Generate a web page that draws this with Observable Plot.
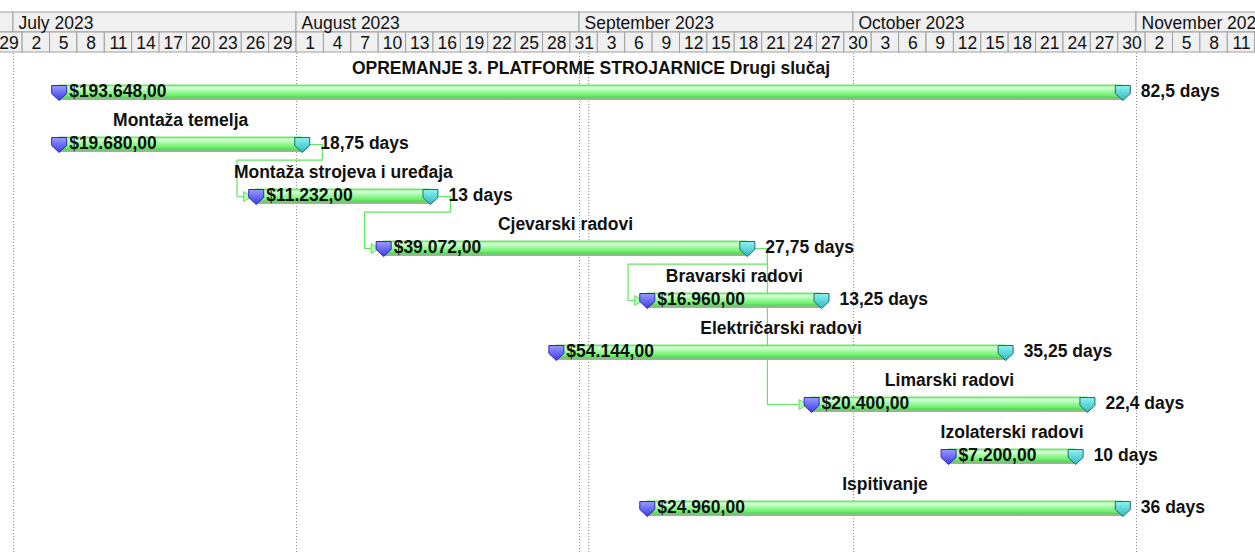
<!DOCTYPE html>
<html><head><meta charset="utf-8">
<script src="https://cdn.jsdelivr.net/npm/d3@7"></script>
<script src="https://cdn.jsdelivr.net/npm/@observablehq/plot@0.6"></script>
<style>
html,body{margin:0;padding:0;background:#fff;}
body{width:1255px;height:552px;overflow:hidden;font-family:Arial,"Liberation Sans",sans-serif;}
svg{display:block;}
</style></head><body><div id="chart"></div>
<script>
// ---- data ----
const taskNames = ["OPREMANJE 3. PLATFORME STROJARNICE Drugi slučaj","Montaža temelja","Montaža strojeva i uređaja","Cjevarski radovi","Bravarski radovi","Električarski radovi","Limarski radovi","Izolaterski radovi","Ispitivanje"];
const taskStarts = ["2023-07-06T00:00","2023-07-06T00:00","2023-07-27T14:00","2023-08-10T13:00","2023-09-08T10:00","2023-08-29T11:00","2023-09-26T10:00","2023-10-11T10:00","2023-09-08T10:00"];
const taskEnds   = ["2023-10-30T12:00","2023-08-01T15:00","2023-08-15T16:00","2023-09-19T09:00","2023-09-27T12:00","2023-10-17T16:00","2023-10-26T15:00","2023-10-25T08:00","2023-10-30T12:00"];
const taskCosts  = ["$193.648,00","$19.680,00","$11.232,00","$39.072,00","$16.960,00","$54.144,00","$20.400,00","$7.200,00","$24.960,00"];
const taskDurations = ["82,5 days","18,75 days","13 days","27,75 days","13,25 days","35,25 days","22,4 days","10 days","36 days"];
const linkFrom = [1,2,3,3];
const linkTo   = [2,3,4,6];
const monthStarts = ["2023-06-01","2023-07-01","2023-08-01","2023-09-01","2023-10-01","2023-11-01"];
const monthEnds   = ["2023-07-01","2023-08-01","2023-09-01","2023-10-01","2023-11-01","2023-12-01"];
const monthLabels = ["","July 2023","August 2023","September 2023","October 2023","November 2023"];
const dayTicks = ["2023-06-29","2023-07-02","2023-07-05","2023-07-08","2023-07-11","2023-07-14","2023-07-17","2023-07-20","2023-07-23","2023-07-26","2023-07-29","2023-08-01","2023-08-04","2023-08-07","2023-08-10","2023-08-13","2023-08-16","2023-08-19","2023-08-22","2023-08-25","2023-08-28","2023-08-31","2023-09-03","2023-09-06","2023-09-09","2023-09-12","2023-09-15","2023-09-18","2023-09-21","2023-09-24","2023-09-27","2023-09-30","2023-10-03","2023-10-06","2023-10-09","2023-10-12","2023-10-15","2023-10-18","2023-10-21","2023-10-24","2023-10-27","2023-10-30","2023-11-02","2023-11-05","2023-11-08","2023-11-11","2023-11-14"];
const gridDates = ["2023-07-01","2023-08-01","2023-09-01","2023-10-01","2023-11-01","2023-09-02"];

// ---- helpers ----
const D = s => new Date(s + (s.length > 10 ? ":00Z" : "T00:00:00Z"));
const DAY = 864e5;
const addDays = (d, n) => new Date(+d + n * DAY);
const xScale = {type: "utc", domain: [D("2023-07-01"), D("2023-11-01")], range: [13, 1136], axis: null};
const FONT = "Arial, 'Liberation Sans', sans-serif";
const FS = 17.5;

const tasks = taskNames.map((name, i) => ({
  name, row: i, start: D(taskStarts[i]), end: D(taskEnds[i]),
  cost: taskCosts[i], dur: taskDurations[i]
}));
tasks.forEach(t => t.mid = new Date((+t.start + +t.end) / 2));

// ---- header ----
const months = monthStarts.map((s, i) => ({x1: D(s), x2: D(monthEnds[i]), label: monthLabels[i], tier: "m"}));
const days = dayTicks.map((s, i) => ({x1: D(s), x2: addDays(D(s), 3), label: String(D(s).getUTCDate()), tier: "d"}));
const cells = months.concat(days);

const header = Plot.plot({
  width: 1255, height: 53, margin: 0,
  style: {fontFamily: FONT, fontSize: FS + "px", background: "#fff"},
  x: xScale,
  y: {type: "band", domain: ["m", "d"], range: [11, 52], padding: 0, axis: null},
  marks: [
    Plot.barX(cells, {x1: "x1", x2: "x2", y: "tier", fill: "#f0f0f0", stroke: "#a0a0a0", strokeWidth: 1, inset: 0}),
    Plot.text(months, {x: "x1", y: "tier", text: "label", textAnchor: "start", dx: 5, dy: 1, fill: "#111", fontSize: FS}),
    Plot.text(days, {x: d => new Date((+d.x1 + +d.x2) / 2), y: "tier", text: "label", dy: 1, fill: "#111", fontSize: FS})
  ]
});

// ---- links ----
const GAP_R = 2.2, GAP_L = 2.1, DROP = 0.3, ARR = 0.85;
const linkPts = [];
const arrows = [];
linkFrom.forEach((a, k) => {
  const p = tasks[a], s = tasks[linkTo[k]];
  const ex = addDays(p.end, GAP_R);
  const tip = addDays(s.start, -ARR);
  const pts = [[p.end, p.row], [ex, p.row]];
  if (+addDays(s.start, -GAP_L) >= +ex) {
    pts.push([ex, s.row], [tip, s.row]);
  } else {
    const lx = addDays(s.start, -GAP_L);
    pts.push([ex, p.row + DROP], [lx, p.row + DROP], [lx, s.row], [tip, s.row]);
  }
  pts.forEach(([x, y]) => linkPts.push({x, y, k}));
  arrows.push({x: tip, y: s.row});
});

// custom shield-shaped milestone symbol
const shield = {
  draw(ctx, size) {
    const r = Math.sqrt(size / Math.PI);
    ctx.moveTo(-r, -0.93 * r);
    ctx.lineTo(r, -0.93 * r);
    ctx.lineTo(r, 0.13 * r);
    ctx.lineTo(0, 1.07 * r);
    ctx.lineTo(-r, 0.13 * r);
    ctx.closePath();
  }
};

const BT = 7 / 52, BB = 6 / 52;
const main = Plot.plot({
  width: 1255, height: 499, margin: 0,
  style: {fontFamily: FONT, fontSize: FS + "px", background: "#fff", overflow: "visible"},
  x: xScale,
  y: {type: "linear", domain: [0, 8], range: [39, 455], axis: null},
  marks: [
    Plot.ruleX(gridDates.map(D), {stroke: "#8a8a8a", strokeWidth: 1, strokeDasharray: "1,2", y1: -0.75, y2: 8.85}),
    Plot.line(linkPts, {x: "x", y: "y", z: "k", stroke: "#62e862", strokeWidth: 1.2, curve: "linear"}),
    Plot.dot(arrows, {x: "x", y: "y", symbol: "triangle", rotate: 90, r: 3.6, fill: "#b6ffb6", stroke: "#5fe05f", strokeWidth: 1, dx: -2}),
    Plot.rect(tasks, {x1: "start", x2: "end", y1: d => d.row - BT, y2: d => d.row + BB, fill: "#a9a9a9", dx: 1, dy: 2}),
    Plot.rect(tasks, {x1: "start", x2: "end", y1: d => d.row - BT, y2: d => d.row + BB, fill: "url(#barGrad)", stroke: "#55e055", strokeWidth: 0.8}),
    Plot.dot(tasks, {x: "start", y: "row", symbol: shield, r: 7.5, fill: "url(#startGrad)", stroke: "#2a2ab8", strokeWidth: 1}),
    Plot.dot(tasks, {x: "end", y: "row", symbol: shield, r: 7.5, fill: "url(#endGrad)", stroke: "#1f6b6e", strokeWidth: 1}),
    Plot.text(tasks, {x: "mid", y: "row", text: "name", dy: -24, fontWeight: "bold", fontSize: FS, fill: "#111"}),
    Plot.text(tasks, {x: "start", y: "row", text: "cost", dx: 10, dy: -1, textAnchor: "start", fontWeight: "bold", fontSize: FS, fill: "#111"}),
    Plot.text(tasks, {x: "end", y: "row", text: "dur", dx: 18, dy: -1, textAnchor: "start", fontWeight: "bold", fontSize: FS, fill: "#111"})
  ]
});

d3.select(main).insert("defs", ":first-child").html(`
  <linearGradient id="barGrad" x1="0" y1="0" x2="0" y2="1">
    <stop offset="0" stop-color="#5fea5f"/>
    <stop offset="0.18" stop-color="#dcffdc"/>
    <stop offset="0.45" stop-color="#a6fba6"/>
    <stop offset="0.8" stop-color="#6cf06c"/>
    <stop offset="1" stop-color="#45d845"/>
  </linearGradient>
  <linearGradient id="startGrad" x1="0" y1="0" x2="0" y2="1">
    <stop offset="0" stop-color="#9a9aff"/>
    <stop offset="1" stop-color="#3b3be6"/>
  </linearGradient>
  <linearGradient id="endGrad" x1="0" y1="0" x2="0" y2="1">
    <stop offset="0" stop-color="#8ef3f3"/>
    <stop offset="1" stop-color="#2fb7bd"/>
  </linearGradient>`);

const root = document.getElementById("chart");
root.appendChild(header);
root.appendChild(main);
</script></body></html>
